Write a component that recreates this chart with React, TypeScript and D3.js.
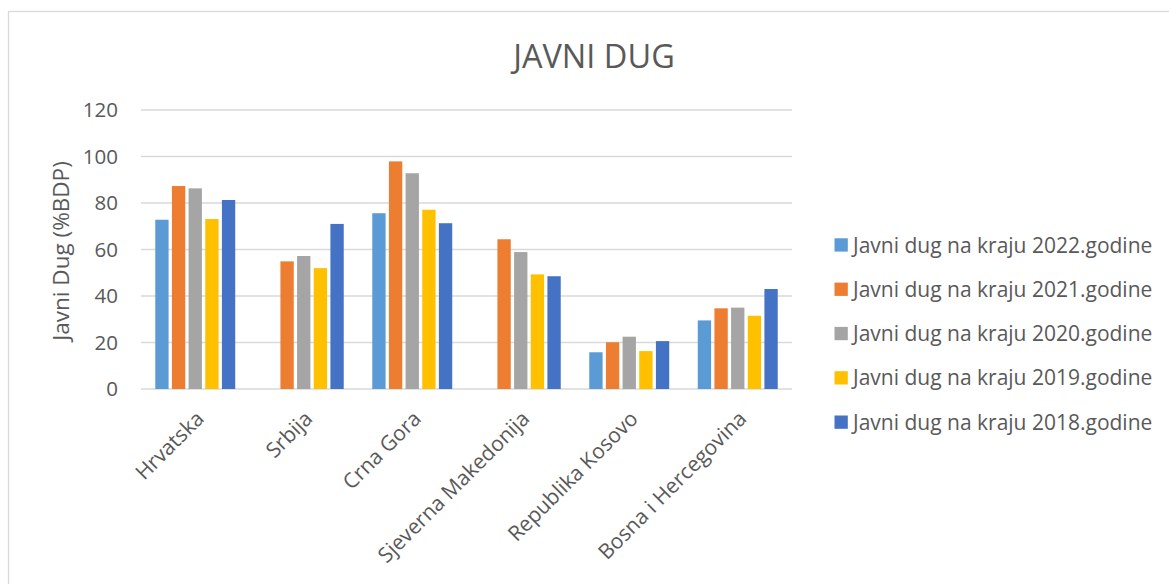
import React from "react";
import * as d3 from "d3";

// Countries on the x axis
const categories = [
  "Hrvatska",
  "Srbija",
  "Crna Gora",
  "Sjeverna Makedonija",
  "Republika Kosovo",
  "Bosna i Hercegovina",
];

// Series labels, one per year
const seriesNames = [
  "Javni dug na kraju 2022.godine",
  "Javni dug na kraju 2021.godine",
  "Javni dug na kraju 2020.godine",
  "Javni dug na kraju 2019.godine",
  "Javni dug na kraju 2018.godine",
];

// Public debt (% of GDP), per country, in category order
const debt2022: (number | null)[] = [72.8, null, 75.6, null, 15.8, 29.5];
const debt2021: (number | null)[] = [87.3, 54.9, 97.9, 64.4, 20.1, 34.7];
const debt2020: (number | null)[] = [86.3, 57.2, 92.8, 58.9, 22.5, 35.0];
const debt2019: (number | null)[] = [73.1, 52.0, 77.1, 49.3, 16.3, 31.5];
const debt2018: (number | null)[] = [81.3, 71.0, 71.3, 48.5, 20.6, 43.0];

const seriesValues = [debt2022, debt2021, debt2020, debt2019, debt2018];
const seriesColors = ["#5B9BD5", "#ED7D31", "#A5A5A5", "#FFC000", "#4472C4"];

const yTicks = [0, 20, 40, 60, 80, 100, 120];

const title = "JAVNI DUG";
const yAxisTitle = "Javni Dug (%BDP)";

const W = 1169;
const H = 584;
const FONT = "'Open Sans', 'Liberation Sans', sans-serif";
const TEXT = "#595959";

export default function App() {
  const plot = { left: 141, right: 792, top: 110, bottom: 389 };

  const x0 = d3
    .scaleBand<string>()
    .domain(categories)
    .range([plot.left, plot.right])
    .padding(0);

  const groupWidth = 83.3;
  const x1 = d3
    .scaleBand<string>()
    .domain(seriesNames)
    .range([0, groupWidth])
    .paddingInner(0.2)
    .paddingOuter(0.1);

  const y = d3.scaleLinear().domain([0, 120]).range([plot.bottom, plot.top]);

  const groupOffset = (x0.bandwidth() - groupWidth) / 2;

  return (
    <svg
      width={W}
      height={H}
      style={{ position: "absolute", left: 0, top: 0, background: "#fff" }}
      fontFamily={FONT}
    >
      <rect x={0} y={0} width={W} height={H} fill="#fff" />
      {/* chart area border */}
      <rect
        x={8.5}
        y={11.5}
        width={W + 20}
        height={H + 20}
        fill="none"
        stroke="#D9D9D9"
        strokeWidth={1.3}
      />

      <text x={594} y={68} textAnchor="middle" fontSize={32.5} fill={TEXT}>
        {title}
      </text>

      {/* gridlines */}
      {yTicks.map((t) => (
        <line
          key={"g" + t}
          x1={plot.left}
          x2={plot.right}
          y1={y(t)}
          y2={y(t)}
          stroke="#D9D9D9"
          strokeWidth={1.5}
        />
      ))}

      {/* y tick labels */}
      {yTicks.map((t) => (
        <text
          key={"t" + t}
          x={118}
          y={y(t)}
          dy="0.36em"
          textAnchor="end"
          fontSize={20.5}
          fill={TEXT}
        >
          {t}
        </text>
      ))}

      <text
        transform={`translate(69, 251) rotate(-90)`}
        textAnchor="middle"
        fontSize={22.5}
        fill={TEXT}
      >
        {yAxisTitle}
      </text>

      {/* bars */}
      {categories.map((c) => (
        <g key={c} transform={`translate(${x0(c)! + groupOffset},0)`}>
          {seriesNames.map((s, si) => {
            const v = seriesValues[si][categories.indexOf(c)];
            if (v == null) return null;
            return (
              <rect
                key={s}
                x={x1(s)}
                y={y(v)}
                width={x1.bandwidth()}
                height={y(0) - y(v)}
                fill={seriesColors[si]}
              />
            );
          })}
        </g>
      ))}

      {/* category labels */}
      {categories.map((c) => {
        const cx = x0(c)! + x0.bandwidth() / 2;
        return (
          <text
            key={"l" + c}
            transform={`translate(${cx + 10}, 420) rotate(-45)`}
            textAnchor="end"
            fontSize={21}
            fill={TEXT}
          >
            {c}
          </text>
        );
      })}

      {/* legend */}
      {seriesNames.map((s, i) => {
        const cy = 245 + i * 44.3;
        return (
          <g key={"lg" + s}>
            <rect
              x={834.5}
              y={cy - 6.7}
              width={13.3}
              height={13.3}
              fill={seriesColors[i]}
            />
            <text x={853} y={cy} dy="0.36em" fontSize={21} fill={TEXT}>
              {s}
            </text>
          </g>
        );
      })}
    </svg>
  );
}
